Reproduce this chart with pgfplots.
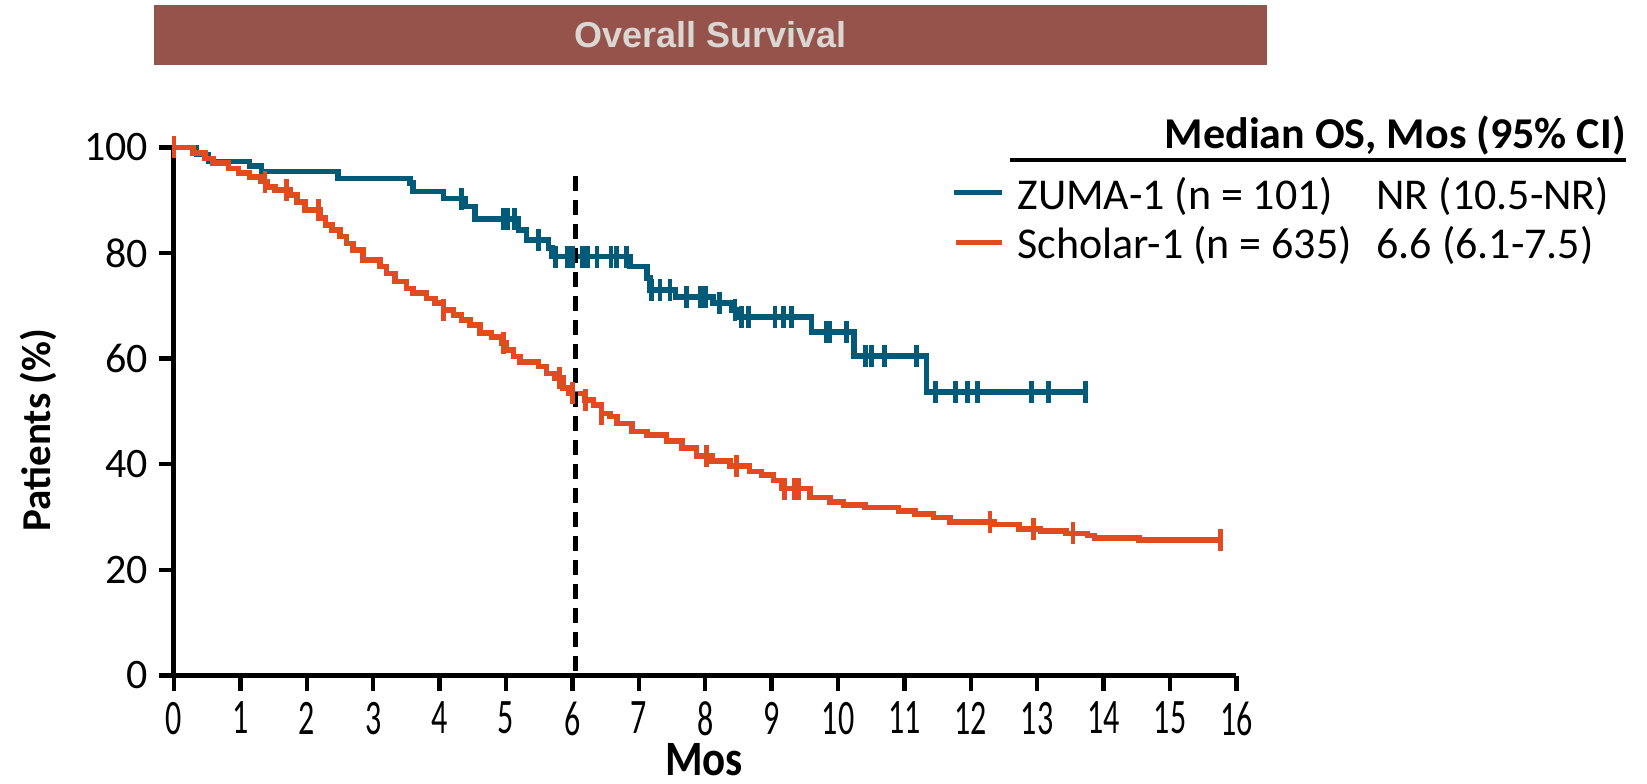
\documentclass[border=0pt]{standalone}
\usepackage{fontspec}
\setmainfont{Carlito}
\newfontfamily\arialfont{Liberation Sans}
\usepackage{graphicx}
\usepackage{pgfplots}
\pgfplotsset{compat=1.18}

\definecolor{zuma}{HTML}{005A78}
\definecolor{scholar}{HTML}{E24A1F}
\definecolor{titlebar}{HTML}{96534B}
\definecolor{titletext}{HTML}{DAD6D2}

\begin{document}
\begin{tikzpicture}
\begin{axis}[
  at={(0pt,0pt)}, anchor=south west,
  scale only axis, width=531.2pt, height=264.1pt,
  xmin=0, xmax=16, ymin=0, ymax=100,
  axis x line*=bottom, axis y line*=left,
  axis line style={line width=2.5pt, black},
  xtick={0,1,...,16}, ytick={0,20,40,60,80,100},
  tick align=outside, major tick length=7.5pt,
  tick style={line width=2.2pt, black},
  /pgf/number format/assume math mode=true,
  yticklabel style={font=\fontsize{21}{24}\selectfont, inner sep=5.2pt},
  xticklabel style={font=\fontsize{16}{18}\selectfont, inner sep=0pt, yshift=-5.5pt},
  xticklabel={\scalebox{1}[1.55]{\pgfmathprintnumber{\tick}}},
  xlabel={\scalebox{1}[1.15]{Mos}},
  xlabel style={at={(axis description cs:0.4989,-0.159)}, anchor=center, inner sep=0pt, font=\bfseries\fontsize{21.5}{25}\selectfont},
  ylabel={Patients (\%)},
  ylabel style={at={(axis description cs:-0.128,0.4648)}, anchor=center, font=\bfseries\fontsize{20.5}{23}\selectfont},
  title={Overall Survival},
  title style={at={(axis description cs:0.50499,1.21261)}, anchor=center, yshift=-6pt, fill=titlebar, text=titletext,
    minimum width=556.5pt, minimum height=30pt, inner sep=0pt, font=\arialfont\bfseries\fontsize{18}{20}\selectfont},
  clip=false,
]
% ZUMA-1 Kaplan-Meier steps
\addplot[zuma, line width=2.8pt, const plot mark left] coordinates {
(0,100) (0.34,98.6) (0.52,97.3) (1.14,96.5) (1.32,95.4) (2.47,94.1) (3.55,93.2) (3.60,91.6)
(4.06,90.3) (4.38,88.8) (4.53,86.4) (5.19,84.3) (5.31,82.4) (5.64,80.9) (5.69,79.3) (6.87,77.4)
(7.12,75.2) (7.17,73.0) (7.55,71.7) (8.12,70.5) (8.40,69.2) (8.50,67.9) (9.60,65.0) (10.24,60.5)
(11.33,53.7) (13.73,53.7)
};
\addplot[zuma, only marks, mark=|, mark size=5.5pt, mark options={line width=2.4pt}] coordinates {
(4.33,90.3) (4.96,86.4) (5.03,86.4) (5.13,86.4) (5.49,82.4)
(5.75,79.3) (5.93,79.3) (6.00,79.3) (6.15,79.3) (6.23,79.3) (6.37,79.3) (6.58,79.3) (6.66,79.3) (6.81,79.3)
(7.19,73.0) (7.32,73.0) (7.47,73.0) (7.72,71.7) (7.93,71.7) (8.00,71.7) (8.22,70.5) (8.45,69.2)
(8.55,67.9) (8.65,67.9) (9.05,67.9) (9.18,67.9) (9.30,67.9)
(9.83,65.0) (9.88,65.0) (10.13,65.0)
(10.41,60.5) (10.50,60.5) (10.70,60.5) (11.18,60.5)
(11.47,53.7) (11.77,53.7) (11.95,53.7) (12.10,53.7) (12.92,53.7) (13.17,53.7) (13.73,53.7)
};
% SCHOLAR-1 Kaplan-Meier steps
\addplot[scholar, line width=2.8pt, const plot mark left] coordinates {
(0,100) (0.29,98.9) (0.47,97.9) (0.59,97.0) (0.82,96.0) (0.97,95.1) (1.14,94.4) (1.30,93.5)
(1.40,92.5) (1.52,91.9) (1.75,91.0) (1.85,89.7) (1.97,88.1) (2.20,86.6) (2.28,85.3) (2.38,84.3)
(2.50,83.1) (2.60,81.8) (2.70,80.6) (2.85,78.7) (3.10,77.4) (3.20,76.1) (3.33,74.6) (3.50,73.3)
(3.60,72.4) (3.80,71.4) (3.93,70.5) (4.06,69.2) (4.21,68.3) (4.33,67.3) (4.46,66.4) (4.61,64.8)
(4.78,64.1) (4.94,62.9) (5.01,61.6) (5.11,60.4) (5.21,59.4) (5.49,58.5) (5.61,57.2) (5.74,56.3)
(5.86,54.4) (5.94,53.4) (6.19,52.2) (6.32,51.2) (6.44,49.6) (6.57,49.0) (6.67,47.7) (6.90,46.2)
(7.12,45.5) (7.42,44.4) (7.65,43.1) (7.87,41.6) (8.10,40.6) (8.37,39.7) (8.67,38.6) (8.85,38.0)
(9.03,36.9) (9.15,35.4) (9.58,33.7) (9.88,32.9) (10.08,32.3) (10.41,31.8) (10.91,31.2) (11.16,30.6)
(11.44,29.9) (11.69,29.1) (12.35,28.6) (12.73,27.7) (13.05,27.4) (13.43,26.9) (13.76,26.5) (13.86,26.0)
(14.53,25.7) (15.76,25.7)
};
\addplot[scholar, only marks, mark=|, mark size=5.5pt, mark options={line width=2.4pt}] coordinates {
(0,100) (1.37,93.5) (1.70,91.9) (2.18,88.1) (4.06,69.2) (4.96,62.9) (5.81,56.3) (6.00,53.4)
(6.20,52.2) (6.44,49.6) (8.02,41.6) (8.47,39.7) (9.20,35.4) (9.35,35.4) (9.40,35.4)
(12.29,29.1) (12.95,27.7) (13.54,26.9) (15.76,25.7)
};
% median reference line
\addplot[black, line width=2.6pt, dash pattern=on 7.5pt off 4.5pt] coordinates {(6.05,94.5) (6.05,0)};
\end{axis}
% legend table
\node[anchor=east, font=\bfseries\fontsize{22}{26}\selectfont, inner sep=0pt] at (726pt,270pt) {Median OS, Mos (95\% CI)};
\draw[line width=1.9pt] (418pt,257.9pt) -- (726pt,257.9pt);
\draw[zuma, line width=2.6pt] (390pt,241.6pt) -- (414pt,241.6pt);
\node[anchor=west, font=\fontsize{22}{26}\selectfont, inner sep=0pt] at (421.5pt,239.5pt) {ZUMA-1 (n = 101)};
\node[anchor=west, font=\fontsize{22}{26}\selectfont, inner sep=0pt] at (601pt,239.5pt) {NR (10.5-NR)};
\draw[scholar, line width=2.6pt] (391pt,216.5pt) -- (414pt,216.5pt);
\node[anchor=west, font=\fontsize{22}{26}\selectfont, inner sep=0pt] at (421.5pt,215pt) {Scholar-1 (n = 635)};
\node[anchor=west, font=\fontsize{22}{26}\selectfont, inner sep=0pt] at (601pt,215pt) {6.6 (6.1-7.5)};
\pgfresetboundingbox
\path (-87pt,-53.75pt) rectangle (736.5pt,337.75pt);
\end{tikzpicture}
\end{document}
